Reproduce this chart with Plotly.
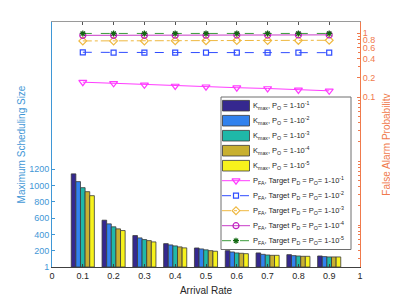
import plotly.graph_objects as go

# ---------------- data ----------------
arrival = [0.1, 0.2, 0.3, 0.4, 0.5, 0.6, 0.7, 0.8, 0.9]
kmax_1 = [1140, 573, 385, 286, 233, 200, 172, 151, 135]
kmax_2 = [1045, 528, 356, 270, 221, 184, 155, 139, 127]
kmax_3 = [971, 492, 336, 258, 210, 172, 147, 135, 123]
kmax_4 = [922, 467, 323, 246, 200, 168, 143, 131, 123]
kmax_5 = [873, 446, 307, 234, 193, 163, 143, 131, 123]

pfa_1 = [0.172, 0.165, 0.156, 0.150, 0.146, 0.141, 0.137, 0.130, 0.126]
pfa_2 = [0.505, 0.50, 0.50, 0.50, 0.50, 0.50, 0.50, 0.498, 0.498]
pfa_3 = [0.76, 0.76, 0.76, 0.765, 0.765, 0.77, 0.77, 0.775, 0.778]
pfa_4 = [0.93, 0.93, 0.93, 0.935, 0.935, 0.94, 0.94, 0.945, 0.945]
pfa_5 = [0.995, 0.995, 0.995, 0.995, 0.995, 0.995, 0.995, 0.995, 0.995]

x_ticks = [0, 0.1, 0.2, 0.3, 0.4, 0.5, 0.6, 0.7, 0.8, 0.9, 1]
x_ticktext = ["0", "0.1", "0.2", "0.3", "0.4", "0.5", "0.6", "0.7", "0.8", "0.9", "1"]
left_ticks = [1, 200, 400, 600, 800, 1000, 1200]
right_ticks = [0.1, 0.2, 0.4, 0.6, 0.8, 1]
right_ticktext = ["0.1", "0.2", "0.4", "0.6", "0.8", "1"]

bar_names = [f"K<sub>max</sub>, P<sub>O</sub> = 1-10<sup>-{i}</sup>" for i in range(1, 6)]
line_names = [f"P<sub>FA</sub>, Target P<sub>D</sub> = P<sub>O</sub>= 1-10<sup>-{i}</sup>" for i in range(1, 6)]

# ---------------- styles ----------------
FONT = "Liberation Sans, Arial, sans-serif"
LEFT_C = "#3f97d6"
RIGHT_C = "#f07a4c"
TXT = "#262626"
bar_colors = ["#35288f", "#3182ee", "#1fb8a8", "#c8b030", "#f7f21c"]
line_styles = [
    dict(color="#ff3cff", dash="solid", symbol="triangle-down-open", size=7, mcolor="#ff3cff"),
    dict(color="#2f4cff", dash="dash", symbol="square-open", size=5, mcolor="#2f4cff"),
    dict(color="#efb840", dash="dashdot", symbol="diamond-open", size=6, mcolor="#efb840"),
    dict(color="#c83cc8", dash="solid", symbol="circle-open", size=6, mcolor="#c020c0"),
    dict(color="#3c9c3c", dash="dash", symbol="asterisk-open", size=5, mcolor="#106810"),
]

fig = go.Figure()

kmax_all = [kmax_1, kmax_2, kmax_3, kmax_4, kmax_5]
for vals, col, name in zip(kmax_all, bar_colors, bar_names):
    fig.add_trace(go.Bar(x=arrival, y=vals, base=1, name=name, marker_color=col,
                         marker_line=dict(color="#3a3a3a", width=0.8),
                         xaxis="x", yaxis="y", showlegend=False))

pfa_all = [pfa_1, pfa_2, pfa_3, pfa_4, pfa_5]
for vals, st, name in zip(pfa_all, line_styles, line_names):
    fig.add_trace(go.Scatter(x=arrival, y=vals, name=name, mode="lines+markers",
                             line=dict(color=st["color"], dash=st["dash"], width=1),
                             marker=dict(symbol=st["symbol"], size=st["size"],
                                         color=st["mcolor"],
                                         line=dict(color=st["mcolor"], width=1.2)),
                             xaxis="x", yaxis="y2", showlegend=False))

# The page body has an 8px default margin, so the figure is sized to fit the
# 398x301 window exactly and all positions below are in window pixels.
OFF = 8
FIG_W, FIG_H = 398 - OFF, 301 - OFF
L, R, T, B = 52, 360, 22, 267          # plot area in window pixels
W, H = R - L, B - T
def px(xp):
    return (xp - L) / W
def py(yp):
    return (B - yp) / H

shapes = []
annotations = []
shapes.append(dict(type="rect", xref="x3", yref="y3", x0=px(221), x1=px(351), y0=py(249.5), y1=py(97),
                   fillcolor="white", line=dict(color="#6e6e6e", width=1), layer="below"))
row0, step = 105.7, 15.0
LEG_FS = 7.5
for i in range(5):
    yc = row0 + step * i
    shapes.append(dict(type="rect", xref="x3", yref="y3", x0=px(222.5), x1=px(249.5),
                       y0=py(yc + 5.3), y1=py(yc - 5.3), fillcolor=bar_colors[i],
                       line=dict(color="#3a3a3a", width=0.8), layer="below"))
    annotations.append(dict(xref="x3", yref="y3", x=px(251), y=py(yc), text=bar_names[i],
                            showarrow=False, xanchor="left", yanchor="middle",
                            font=dict(size=LEG_FS, color=TXT, family=FONT)))
for j in range(5):
    yc = row0 + step * (5 + j)
    st = line_styles[j]
    shapes.append(dict(type="line", xref="x3", yref="y3", x0=px(222), x1=px(250),
                       y0=py(yc), y1=py(yc), line=dict(color=st["color"], dash=st["dash"], width=1),
                       layer="below"))
    fig.add_trace(go.Scatter(x=[px(236)], y=[py(yc)], mode="markers",
                             marker=dict(symbol=st["symbol"], size=st["size"], color=st["mcolor"],
                                         line=dict(color=st["mcolor"], width=1.2)),
                             xaxis="x3", yaxis="y3", showlegend=False, hoverinfo="skip"))
    annotations.append(dict(xref="x3", yref="y3", x=px(251), y=py(yc), text=line_names[j],
                            showarrow=False, xanchor="left", yanchor="middle",
                            font=dict(size=LEG_FS, color=TXT, family=FONT)))

minor_vals = []
for dec in [1e-4, 1e-3, 1e-2]:
    for m in range(1, 10):
        v = m * dec
        if v >= 2.2e-4:
            minor_vals.append(v)
minor_vals += [0.3, 0.5, 0.7, 0.9]

fig.update_layout(
    width=FIG_W, height=FIG_H,
    margin=dict(l=L - OFF, r=FIG_W - (R - OFF), t=T - OFF, b=FIG_H - (B - OFF)),
    paper_bgcolor="white", plot_bgcolor="white",
    font=dict(family=FONT, size=9, color=TXT),
    barmode="group", bargap=0.25, bargroupgap=0,
    showlegend=False,
    shapes=shapes, annotations=annotations,
    xaxis=dict(range=[0, 1], tickvals=x_ticks, ticktext=x_ticktext, ticks="inside", ticklen=3,
               tickcolor="#404040", showline=True, linecolor="#404040", linewidth=1,
               showgrid=False, zeroline=False, tickfont=dict(size=9, color=TXT), automargin=False,
               title=dict(text="Arrival Rate", font=dict(size=10, color=TXT), standoff=7)),
    xaxis4=dict(range=[0, 1], overlaying="x", side="top", anchor="y", tickvals=x_ticks,
                ticks="inside", ticklen=3, tickcolor="#555555", showticklabels=False, automargin=False,
                showline=True, linecolor="#9a9a9a", linewidth=1, showgrid=False, zeroline=False),
    yaxis=dict(range=[1, 3000], tickvals=left_ticks, ticks="inside", ticklen=3,
               tickcolor=LEFT_C, showline=True, linecolor=LEFT_C, linewidth=1, automargin=False,
               showgrid=False, zeroline=False, tickfont=dict(size=9, color=LEFT_C),
               title=dict(text="Maximum Scheduling Size", font=dict(size=10, color=LEFT_C), standoff=1)),
    yaxis2=dict(type="log", range=[-3.656, 0.177], overlaying="y", side="right", anchor="x",
                tickvals=right_ticks, ticktext=right_ticktext, ticks="inside", ticklen=3,
                tickcolor=RIGHT_C, showline=True, linecolor=RIGHT_C, linewidth=1, automargin=False,
                minor=dict(tickvals=minor_vals, ticks="inside", ticklen=2, tickcolor=RIGHT_C),
                showgrid=False, zeroline=False, tickfont=dict(size=9, color=RIGHT_C),
                title=dict(text="False Alarm Probability", font=dict(size=10, color=RIGHT_C), standoff=8)),
    xaxis3=dict(range=[0, 1], overlaying="x", anchor="y3", visible=False, fixedrange=True, automargin=False),
    yaxis3=dict(range=[0, 1], overlaying="y", anchor="x3", visible=False, fixedrange=True, automargin=False),
)

fig.add_trace(go.Scatter(x=[None], y=[None], xaxis="x4", yaxis="y", showlegend=False))

fig.write_html("out.html")
